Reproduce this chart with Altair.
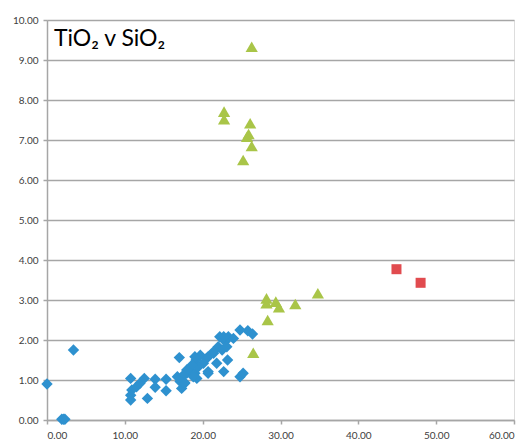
import altair as alt
import pandas as pd

# Blue diamonds
blue_x = [0.0, 3.4, 1.9, 2.1, 2.3, 10.75, 10.9, 10.75, 10.75, 11.5, 11.95, 12.5, 12.9,
          13.9, 13.9, 15.3, 15.3, 16.75, 17.0, 17.3, 17.7, 17.95, 18.4, 19.0, 19.25,
          19.15, 19.7, 20.1, 20.5, 20.7, 21.4, 21.8, 22.0, 22.2, 22.7, 22.9, 23.2, 23.3,
          23.95, 24.8, 24.8, 25.2, 25.8, 26.4, 22.5, 23.1, 20.7, 19.0, 19.45, 18.6,
          17.95, 20.7, 17.5, 17.1, 18.8, 17.7, 22.7, 21.4]
blue_y = [0.90, 1.75, 0.02, 0.02, 0.02, 1.04, 0.75, 0.62, 0.50, 0.83, 0.92, 1.04, 0.54,
          1.02, 0.82, 1.02, 0.73, 1.08, 1.56, 0.79, 0.93, 1.17, 1.25, 1.17, 1.04,
          1.50, 1.62, 1.42, 1.54, 1.17, 1.67, 1.42, 1.83, 2.08, 1.21, 1.96, 1.50, 2.08,
          2.04, 2.25, 1.08, 1.17, 2.23, 2.15, 1.75, 1.83, 1.58, 1.58, 1.33, 1.37,
          1.25, 1.21, 1.12, 0.96, 1.08, 0.92, 2.08, 1.71]

# Green triangles
green_x = [26.3, 22.75, 22.75, 26.1, 25.7, 25.9, 26.3, 25.2, 28.2, 28.2, 29.4, 29.8,
           31.9, 34.8, 28.35, 26.5]
green_y = [9.33, 7.71, 7.52, 7.42, 7.08, 7.15, 6.85, 6.50, 3.04, 2.92, 2.96, 2.82,
           2.90, 3.17, 2.50, 1.68]

# Red squares
red_x = [44.9, 48.0]
red_y = [3.77, 3.43]

x_ticks = [0, 10, 20, 30, 40, 50, 60]
y_ticks = [0, 1, 2, 3, 4, 5, 6, 7, 8, 9, 10]

df_b = pd.DataFrame({"x": blue_x, "y": blue_y})
df_g = pd.DataFrame({"x": green_x, "y": green_y})
df_r = pd.DataFrame({"x": red_x, "y": red_y})

FONT = "Lato"
GRID = "#a6a6a6"

xs = alt.Scale(domain=[0, 60], nice=False, zero=False)
ys = alt.Scale(domain=[0, 10], nice=False, zero=False)

x_axis = alt.Axis(values=x_ticks, format=".2f", grid=False, domainColor=GRID, domainWidth=1.5,
                  tickColor=GRID, tickSize=4, tickWidth=1.5, labelFont=FONT, labelFontSize=10,
                  labelColor="#404040", labelPadding=6, labelOverlap=False, title=None)
y_axis = alt.Axis(values=y_ticks, format=".2f", grid=True, gridColor=GRID, gridWidth=1.5,
                  domainColor=GRID, domainWidth=1.5, tickColor=GRID, tickSize=4, tickWidth=1.5,
                  labelFont=FONT, labelFontSize=10, labelColor="#404040", labelPadding=5,
                  labelOverlap=False, title=None)


def enc(ch):
    return ch.encode(
        x=alt.X("x:Q", scale=xs, axis=x_axis),
        y=alt.Y("y:Q", scale=ys, axis=y_axis),
    )


blue = enc(alt.Chart(df_b).mark_point(shape="diamond", filled=True, size=130, opacity=1,
                                      color="#2E91CF"))
green = enc(alt.Chart(df_g).mark_point(shape="triangle-up", filled=True, size=150, opacity=1,
                                       color="#A9C548"))
red = enc(alt.Chart(df_r).mark_point(shape="square", filled=True, size=100, opacity=1,
                                     color="#E14B4F"))

title = alt.Chart(pd.DataFrame({"t": ["TiO\u2082 v SiO\u2082"]})).mark_text(
    align="left", baseline="alphabetic", font=FONT, fontSize=23, color="#000000"
).encode(x=alt.value(7), y=alt.value(26), text="t:N")

chart = alt.layer(blue, green, red, title).properties(
    width=467, height=400,
    autosize=alt.AutoSizeParams(type="none"),
    padding={"left": 47, "top": 20, "right": 14, "bottom": 19},
).configure_view(stroke=None).configure(background="white")

chart.save("out.html", embed_options={"renderer": "svg", "actions": False})
